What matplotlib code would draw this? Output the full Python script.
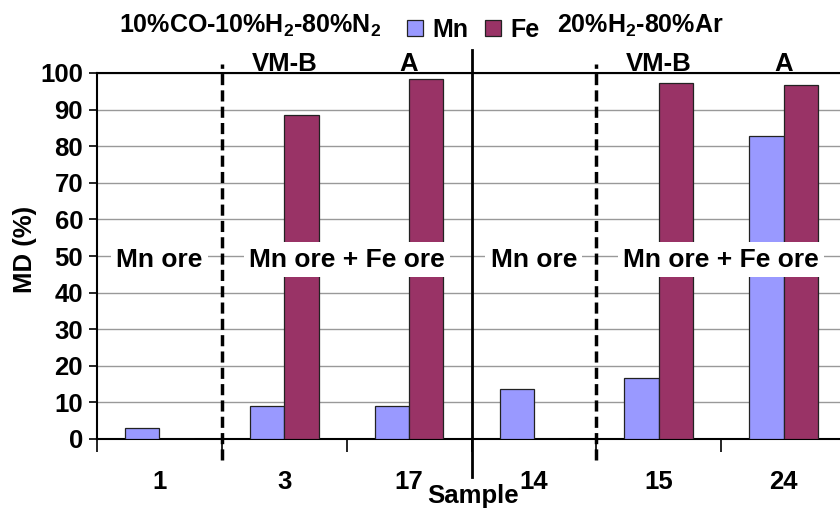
import matplotlib
matplotlib.use('Agg')
import matplotlib.pyplot as plt
import numpy as np

samples = ['1', '3', '17', '14', '15', '24']
mn_md = [3.0, 9.0, 9.0, 13.7, 16.7, 82.8]
fe_md = [0.0, 88.5, 98.4, 0.0, 97.3, 96.7]
ore_labels = ['Mn ore', 'Mn ore + Fe ore', 'Mn ore', 'Mn ore + Fe ore']
ore_pos = [0, 1.5, 3, 4.5]
top_labels = ['VM-B', 'A', 'VM-B', 'A']
top_pos = [1, 2, 4, 5]

plt.rcParams['font.family'] = ['Liberation Sans', 'DejaVu Sans']
plt.rcParams['font.weight'] = 'bold'
plt.rcParams['mathtext.fontset'] = 'custom'
plt.rcParams['mathtext.bf'] = 'Liberation Sans:bold'
plt.rcParams['mathtext.rm'] = 'Liberation Sans:bold'

fig = plt.figure(figsize=(8.4, 5.08), dpi=100)
ax = fig.add_axes([97/840, 69/508, 749/840, 366/508])

x = np.arange(len(samples))
w = 0.275
b1 = ax.bar(x - w/2, mn_md, w, color='#9999FF', edgecolor='#222222', lw=0.9, zorder=3, label='Mn')
b2 = ax.bar(x + w/2, fe_md, w, color='#993366', edgecolor='#222222', lw=0.9, zorder=3, label='Fe')

ax.set_xlim(-0.5, 5.5)
ax.set_ylim(0, 100)
ax.set_yticks(range(0, 101, 10))
ax.yaxis.grid(True, color='#999999', lw=1, zorder=0)
ax.set_axisbelow(True)
for s in ['left', 'bottom', 'top']:
    ax.spines[s].set_linewidth(1.5)
ax.spines['right'].set_visible(False)

ax.set_xticks(np.arange(-0.5, 6, 1))
ax.set_xticklabels([])
ax.set_xticks(x, minor=True)
ax.set_xticklabels(samples, minor=True, fontsize=18.5, fontweight='bold')
ax.tick_params(axis='x', which='major', length=9, width=1.2, direction='out')
ax.tick_params(axis='x', which='minor', length=0, pad=22)
ax.tick_params(axis='y', length=6, width=1.2, labelsize=18.5, pad=4)

# group separators
for xs in [0.5, 3.5]:
    ax.axvline(xs, ymin=-0.057, ymax=1.025, color='black', lw=2.5, ls=(0, (3.2, 1.5)),
               clip_on=False, zorder=6)
ax.axvline(2.5, ymin=-0.104, ymax=1.063, color='black', lw=2, clip_on=False, zorder=6)

for lab, p in zip(ore_labels, ore_pos):
    ax.text(p, 49, lab, ha='center', va='center', fontsize=19, fontweight='bold', zorder=5,
            bbox=dict(boxstyle='square,pad=0.2', fc='white', ec='none'))

for lab, p in zip(top_labels, top_pos):
    ax.text(p, 100.6, lab, ha='center', va='baseline', fontsize=18.5, fontweight='bold')

fig.text(119/840, 1 - 33/508, r'10%CO-10%H$_\mathbf{2}$-80%N$_\mathbf{2}$', ha='left', va='baseline',
         fontsize=18, fontweight='bold')
fig.text(557/840, 1 - 33/508, r'20%H$_\mathbf{2}$-80%Ar', ha='left', va='baseline',
         fontsize=18, fontweight='bold')
fig.legend(handles=[b1, b2], loc='center', bbox_to_anchor=(473/840, 1 - 30/508), ncol=2,
           frameon=False, fontsize=18, handlelength=0.64, handleheight=0.64,
           handletextpad=0.36, columnspacing=0.68, borderpad=0)

fig.text(25/840, 1 - 249/508, 'MD (%)', rotation=90, ha='center', va='center', fontsize=18.5, fontweight='bold')
fig.text(473/840, 1 - 496/508, 'Sample', ha='center', va='center', fontsize=18.5, fontweight='bold')

fig.savefig('out.png', dpi=100)
